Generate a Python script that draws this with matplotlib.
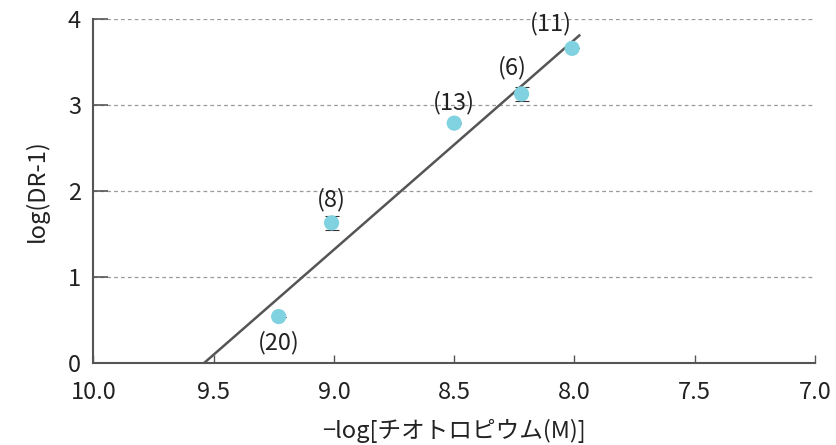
import matplotlib.pyplot as plt

plt.rcParams['font.family'] = ['Noto Sans CJK JP', 'DejaVu Sans']

# data
x_vals = [9.23, 9.01, 8.50, 8.22, 8.01]
y_vals = [0.54, 1.63, 2.79, 3.13, 3.66]
y_err = [0.0, 0.08, 0.0, 0.08, 0.0]
n_labels = ["(20)", "(8)", "(13)", "(6)", "(11)"]
fit_x = [9.54, 7.98]
fit_y = [0.0, 3.81]
x_ticks = [10.0, 9.5, 9.0, 8.5, 8.0, 7.5, 7.0]
y_ticks = [0, 1, 2, 3, 4]

fig = plt.figure(figsize=(8.37, 4.45), dpi=100)
ax = fig.add_axes([0.1117, 0.1843, 0.862, 0.7727])

dark = "#555555"
txt = "#222222"
fs = 17

# grid lines
for yv in y_ticks[1:]:
    ax.axhline(yv, color="#9a9a9a", linestyle=(0, (3, 2.5)), linewidth=0.9, zorder=0)

# regression line
ax.plot(fit_x, fit_y, color=dark, linewidth=1.8, zorder=2)

# points with error bars
ax.errorbar(x_vals, y_vals, yerr=y_err, fmt="none", ecolor="#333333",
            elinewidth=0.8, capsize=5, capthick=0.8, zorder=3)
ax.scatter(x_vals, y_vals, s=120, color="#80d2e0", edgecolors="none", zorder=4)

# labels
offsets = [(0, -19), (0, 17), (0, 15), (-7, 19), (-15, 18)]
for x, y, lab, off in zip(x_vals, y_vals, n_labels, offsets):
    ax.annotate(lab, (x, y), xytext=off, textcoords="offset points",
                ha="center", va="center", fontsize=fs, color=txt)

ax.set_xlim(10.0, 7.0)
ax.set_ylim(0, 4)
ax.set_xticks(x_ticks)
ax.set_xticklabels([f"{t:.1f}" for t in x_ticks])
ax.set_yticks(y_ticks)

for s in ["top", "right"]:
    ax.spines[s].set_visible(False)
for s in ["left", "bottom"]:
    ax.spines[s].set_color(dark)
    ax.spines[s].set_linewidth(1.5)

ax.tick_params(axis="x", direction="in", length=6, width=1, color=dark,
               labelsize=fs, labelcolor=txt, pad=13)
ax.tick_params(axis="y", direction="in", length=11, width=1.2, color=dark,
               labelsize=fs, labelcolor=txt, pad=9)

ax.set_xlabel("−log[チオトロピウム(M)]", fontsize=fs, color=txt, labelpad=11)
ax.set_ylabel("log(DR-1)", fontsize=fs, color=txt, labelpad=14)

fig.savefig("out.png", dpi=100)
